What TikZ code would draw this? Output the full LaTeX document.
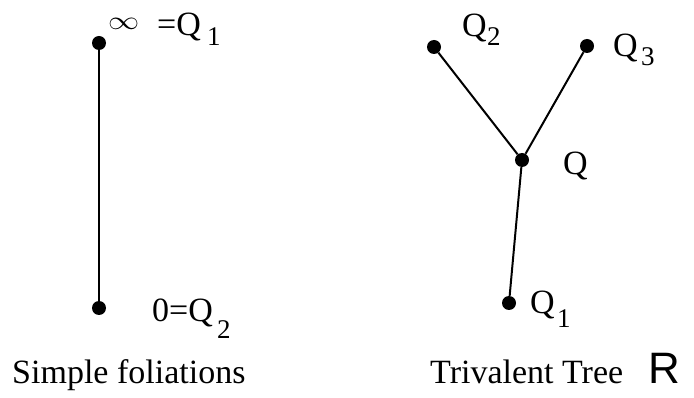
\documentclass[tikz,border=0pt]{standalone}
\usepackage{fontspec}
\setmainfont{Liberation Serif}
\newfontfamily\rsans{Liberation Sans}
\begin{document}
\begin{tikzpicture}[x=1pt,y=-1pt,
  dot/.style={circle,fill=black,inner sep=0pt,minimum size=14pt},
  edge/.style={line width=2pt},
  lbl/.style={anchor=base west,inner sep=0pt,font=\fontsize{34}{34}\selectfont},
  subtxt/.style={anchor=base west,inner sep=0pt,font=\fontsize{27}{27}\selectfont},
  captxt/.style={anchor=base west,inner sep=0pt,font=\fontsize{34}{34}\selectfont}]
\useasboundingbox (0,0) rectangle (694,398);
% left
\node[dot] (inf) at (99,43) {};
\node[dot] (zero) at (99,308) {};
\draw[edge] (inf) -- (zero);
\node[lbl] (infl) at (108,30) {\scalebox{1.25}[1.05]{$\infty$}};
\node[lbl] (eqq1) at (157,36) {=Q};
\node[subtxt] (s1) at (207,46) {1};
\node[lbl] (zl) at (152,322) {0=Q};
\node[subtxt] (s2) at (217,338) {2};
% right tree
\node[dot] (q2) at (434,47) {};
\node[dot] (q3) at (587,46) {};
\node[dot] (q) at (522,160) {};
\node[dot] (q1) at (509,303) {};
\draw[edge] (q2) -- (q) -- (q3);
\draw[edge] (q) -- (q1);
\node[lbl] (q2l) at (462,37) {Q};
\node[subtxt] (q2s) at (487,46) {2};
\node[lbl] (q3l) at (613,57) {Q};
\node[subtxt] (q3s) at (641,66) {3};
\node[lbl] (ql) at (563,175) {Q};
\node[lbl] (q1l) at (530,313) {Q};
\node[subtxt] (q1s) at (557,327) {1};
% captions
\node[captxt] (c1) at (12,383) {Simple foliations};
\node[captxt] (c2) at (430,383) {Trivalent Tree};
\node[anchor=base west,inner sep=0pt,font=\rsans\fontsize{44}{44}\selectfont] (r) at (648,383) {R};
\end{tikzpicture}
\end{document}
